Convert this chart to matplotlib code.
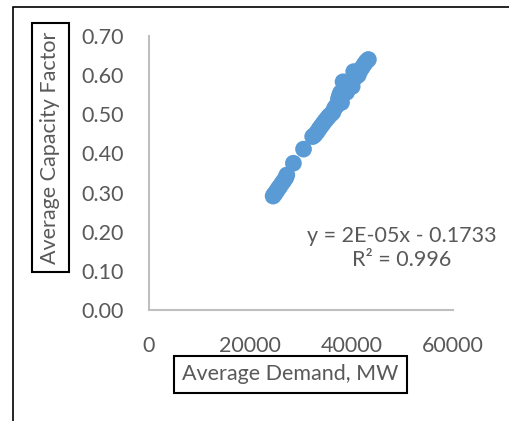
import matplotlib
matplotlib.use("Agg")
import matplotlib.pyplot as plt
from matplotlib.patches import Rectangle

# data
demand = [24500, 24700, 24900, 25200, 25500, 25800, 26200, 26600, 27000, 27200,
          28500, 30500, 32300, 32700, 33200, 33600, 34000, 34400, 34800, 35200,
          35500, 35900, 36300, 36600, 36900, 37200, 37400, 37600, 37800, 38000,
          38300, 38600, 39000, 39400, 39800, 40100, 40400, 40800, 41300, 41700,
          42100, 42500, 42900, 43300]
capacity = [0.291, 0.295, 0.298, 0.304, 0.310, 0.315, 0.323, 0.330, 0.338, 0.345,
            0.375, 0.411, 0.443, 0.447, 0.455, 0.463, 0.470, 0.477, 0.484, 0.490,
            0.495, 0.500, 0.505, 0.515, 0.520, 0.525, 0.540, 0.548, 0.555, 0.530,
            0.583, 0.560, 0.556, 0.566, 0.575, 0.571, 0.609, 0.595, 0.600, 0.612,
            0.620, 0.628, 0.635, 0.640]

x_ticks = [0, 20000, 40000, 60000]
y_ticks = [0.0, 0.1, 0.2, 0.3, 0.4, 0.5, 0.6, 0.7]
trend_text = "y = 2E-05x - 0.1733\nR² = 0.996"

plt.rcParams['font.family'] = ['Lato', 'DejaVu Sans']
text_color = '#595959'
fs = 15.5

W, H = 510, 421
fig = plt.figure(figsize=(W / 100, H / 100), dpi=100)
ax = fig.add_axes([149 / W, 1 - 310 / H, 304 / W, 274 / H])

ax.scatter(demand, capacity, s=145, color='#5B9BD5', edgecolors='none', zorder=3)

ax.set_xlim(0, 60000)
ax.set_ylim(0, 0.7)
ax.set_xticks(x_ticks)
ax.set_yticks(y_ticks)
ax.set_xticklabels([str(v) for v in x_ticks])
ax.set_yticklabels([f"{v:.2f}" for v in y_ticks])
ax.tick_params(length=0, labelsize=fs, colors=text_color)
ax.tick_params(axis='x', pad=19)
ax.tick_params(axis='y', pad=18)
for side in ['top', 'right']:
    ax.spines[side].set_visible(False)
for side in ['left', 'bottom']:
    ax.spines[side].set_color('#BFBFBF')
    ax.spines[side].set_linewidth(1.5)

# trendline label
ax.text(0.832, 0.228, trend_text, transform=ax.transAxes, ha='center', va='center',
        fontsize=fs, color=text_color, linespacing=1.25)

# boxed axis titles
box = dict(boxstyle='square,pad=0.38', fc='white', ec='black', lw=1.5)
fig.text(50.5 / W, 1 - 147.5 / H, "Average Capacity Factor", rotation=90,
         ha='center', va='center', fontsize=fs, color=text_color, bbox=box)
fig.text(290.5 / W, 1 - 374.5 / H, "Average Demand, MW",
         ha='center', va='center', fontsize=fs, color=text_color, bbox=box)

# outer chart border (only left/top edges visible)
fig.add_artist(Rectangle((13 / W, -0.1), 1.2, 1.1 - 7 / H, transform=fig.transFigure,
                         fill=False, ec='black', lw=1.2))

fig.savefig("out.png", dpi=100)
